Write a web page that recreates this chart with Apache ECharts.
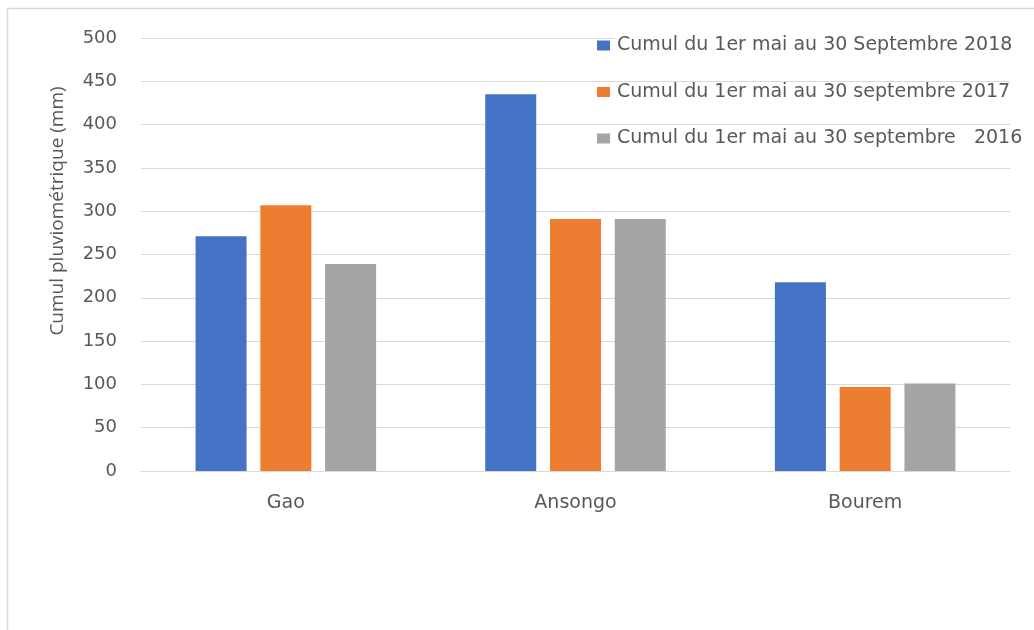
<!DOCTYPE html>
<html>
<head>
<meta charset="utf-8">
<script src="https://cdn.jsdelivr.net/npm/echarts@6/dist/echarts.min.js"></script>
<style>html,body{margin:0;padding:0;background:#fff;}#c{width:1034px;height:630px;}</style>
</head>
<body>
<div id="c"></div>
<script>
const categories = ['Gao', 'Ansongo', 'Bourem'];
const seriesNames = [
  'Cumul du 1er mai au 30 Septembre 2018',
  'Cumul du 1er mai au 30 septembre 2017',
  'Cumul du 1er mai au 30 septembre   2016'
];
const values2018 = [271, 435, 218];
const values2017 = [307, 291, 97];
const values2016 = [239, 291, 101];
const yAxisTitle = 'Cumul pluviométrique (mm)';

const colors = ['#4472C4', '#ED7D31', '#A5A5A5'];
const txt = '#595959';
const font = 'DejaVu Sans';

const chart = echarts.init(document.getElementById('c'));
const dataSets = [values2018, values2017, values2016];
chart.setOption({
  animation: false,
  backgroundColor: '#fff',
  grid: { left: 141, right: 24, top: 38, bottom: 159 },
  legend: {
    orient: 'vertical',
    left: 597, top: 36,
    padding: 0,
    itemWidth: 13, itemHeight: 10,
    itemGap: 27.5,
    icon: 'rect',
    data: seriesNames,
    textStyle: { color: txt, fontFamily: font, fontSize: 19, lineHeight: 16, backgroundColor: '#fff', padding: [0, 0, 0, 2] }
  },
  xAxis: {
    type: 'category',
    data: categories,
    axisLine: { lineStyle: { color: '#d9d9d9', width: 1 } },
    axisTick: { show: false },
    axisLabel: { color: txt, fontFamily: font, fontSize: 19, margin: 23 }
  },
  yAxis: {
    type: 'value',
    min: 0, max: 500, interval: 50,
    axisLine: { show: false },
    axisTick: { show: false },
    splitLine: { lineStyle: { color: '#d9d9d9', width: 1 } },
    axisLabel: { color: txt, fontFamily: font, fontSize: 18, margin: 24 }
  },
  series: seriesNames.map((n, i) => ({
    name: n,
    type: 'bar',
    data: dataSets[i],
    barWidth: 51,
    barGap: '27%',
    itemStyle: { color: colors[i] }
  })),
  graphic: [
    {
      type: 'rect', silent: true, z: -1,
      shape: { x: 7.5, y: 8.5, width: 1100, height: 700 },
      style: { fill: 'none', stroke: '#d9d9d9', lineWidth: 1.5 }
    },
    {
      type: 'text', x: 58, y: 211, rotation: Math.PI / 2,
      style: { text: yAxisTitle, fill: txt, font: '19px "Open Sans"', align: 'center', verticalAlign: 'middle' }
    }
  ]
});
</script>
</body>
</html>
